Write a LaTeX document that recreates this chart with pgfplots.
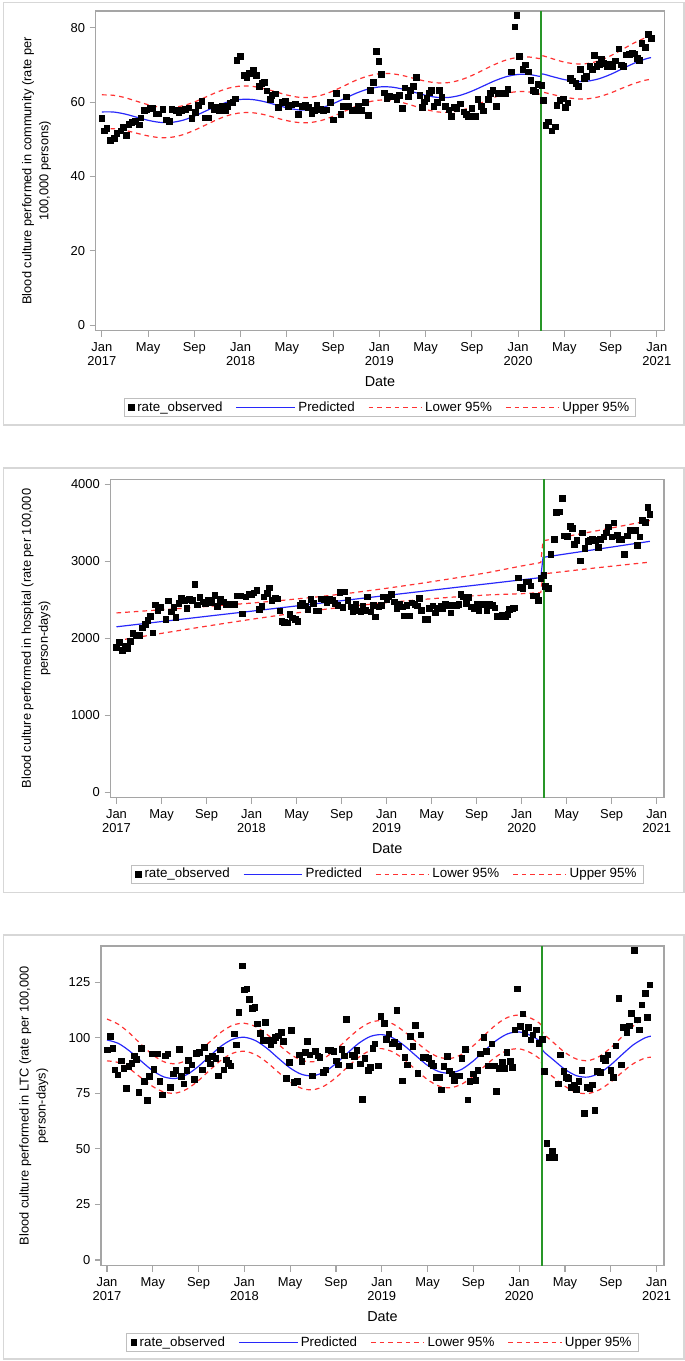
\documentclass[border=0pt]{standalone}
\usepackage{fontspec}
\setmainfont{Liberation Sans}
\usepackage{pgfplots}
\usepackage{pgfplotstable}
\pgfplotsset{compat=1.18}
\definecolor{predblue}{RGB}{40,40,250}
\definecolor{cired}{RGB}{255,50,50}
\definecolor{ivgreen}{RGB}{40,150,40}
\definecolor{framegray}{RGB}{165,165,165}
\definecolor{bordergray}{RGB}{215,215,215}
\pgfplotsset{
  panel/.style={
    scale only axis,
    xmin=-0.53, xmax=48.65,
    xtick={0,4,...,48},
    xticklabels={{Jan\\2017},May,Sep,{Jan\\2018},May,Sep,{Jan\\2019},May,Sep,{Jan\\2020},May,Sep,{Jan\\2021}},
    xtick pos=bottom, ytick pos=left,
    tick align=outside,
    major tick length=4.5pt,
    tick style={framegray, line width=0.8pt},
    axis line style={framegray, line width=0.9pt},
    ticklabel style={font=\fontsize{9.7}{10.5}\selectfont},
    xticklabel style={align=center, yshift=-1pt},
    /pgf/number format/assume math mode=true,
    /pgf/number format/1000 sep={},
    xlabel={Date},
    xlabel style={at={(axis description cs:0.5,-0.1595)}, anchor=center, font=\fontsize{10.8}{12}\selectfont},
    ylabel style={anchor=center, align=center, font=\fontsize{9.6}{12.75}\selectfont},
    legend style={at={(0.5,-0.24)}, anchor=center, legend columns=4, draw=black!25, line width=0.6pt,
      font=\fontsize{10}{12}\selectfont, inner xsep=3pt, inner ysep=0.5pt,
      /tikz/every even column/.append style={column sep=8pt}},
    legend cell align=left,
  },
  obs/.style={only marks, mark=square*, mark size=2.1pt, black},
  pred/.style={predblue, line width=0.9pt},
  band/.style={cired, line width=0.9pt, dash pattern=on 3.5pt off 3pt},
  ivline/.style={ivgreen, line width=1.1pt, forget plot},
  legobs/.style={legend image code/.code={\fill[black] (0pt,-2.1pt) rectangle (4.2pt,2.1pt);}},
  legpred/.style={legend image code/.code={\draw[draw=predblue, line width=0.9pt] (0pt,0pt) -- (44pt,0pt);}},
  legband/.style={legend image code/.code={\draw[draw=cired, line width=0.9pt, dash pattern=on 3.5pt off 3pt] (0pt,0pt) -- (40pt,0pt);}},
  fourlegend/.code={%
    \addlegendimage{legobs}\addlegendentry{rate\_observed}%
    \addlegendimage{legpred}\addlegendentry{Predicted}%
    \addlegendimage{legband}\addlegendentry{Lower 95\%}%
    \addlegendimage{legband}\addlegendentry{Upper 95\%}%
  },
}
\pgfplotstableread{
m p lo up
0 57.35 52.75 61.95
1 57.33 52.83 61.83
2 56.79 52.39 61.19
3 55.94 51.64 60.24
4 55.10 50.90 59.30
5 54.55 50.45 58.65
6 54.53 50.53 58.53
7 55.11 51.21 59.01
8 56.22 52.42 60.02
9 57.62 53.87 61.37
10 59.03 55.33 62.73
11 60.13 56.48 63.78
12 60.71 57.11 64.31
13 60.69 57.14 64.24
14 60.15 56.65 63.65
15 59.30 55.80 62.80
16 58.46 55.01 61.91
17 57.91 54.51 61.31
18 57.89 54.49 61.29
19 58.47 55.07 61.87
20 59.58 56.18 62.98
21 60.98 57.53 64.43
22 62.39 58.89 65.89
23 63.49 59.99 66.99
24 64.07 60.52 67.62
25 64.05 60.45 67.65
26 63.51 59.86 67.16
27 62.66 58.96 66.36
28 61.82 58.02 65.62
29 61.27 57.37 65.17
30 61.25 57.25 65.25
31 61.83 57.73 65.93
32 62.94 58.74 67.14
33 64.34 60.04 68.64
34 65.75 61.35 70.15
35 66.85 62.35 71.35
36 67.43 62.83 72.03
37 67.41 62.71 72.11
37.95 66.90 62.10 71.70
38.05 67.60 62.70 72.50
39 66.83 62.03 71.63
40 66.05 61.35 70.75
41 65.58 60.88 70.28
42 65.63 60.88 70.38
43 66.28 61.43 71.13
44 67.45 62.45 72.45
45 68.93 63.73 74.13
46 70.40 64.95 75.85
47 71.58 65.88 77.28
47.5 71.97 66.12 77.82
}\fitA
\pgfplotstableread{
m p lo up
0 2150 1970 2330
3 2201 2041 2361
6 2252 2112 2392
9 2303 2181 2425
12 2353 2248 2458
15 2404 2311 2497
18 2455 2369 2541
21 2506 2420 2592
24 2557 2464 2650
27 2608 2503 2713
30 2659 2537 2781
33 2709 2564 2854
36 2760 2580 2940
37.7 2789 2594 2984
37.9 3052 2837 3267
42.65 3156 2916 3396
47.4 3260 2990 3530
}\fitB
\pgfplotstableread{
m p lo up
0 98.95 89.55 108.35
1 97.38 88.78 105.98
2 93.86 85.86 101.86
3 89.36 81.86 96.86
4 85.11 78.01 92.21
5 82.28 75.48 89.08
6 81.65 75.05 88.25
7 83.42 76.92 89.92
8 87.14 80.74 93.54
9 91.84 85.49 98.19
10 96.29 89.99 102.59
11 99.32 93.02 105.62
12 100.15 93.85 106.45
13 98.58 92.28 104.88
14 95.06 88.76 101.36
15 90.56 84.26 96.86
16 86.31 80.01 92.61
17 83.48 77.18 89.78
18 82.85 76.55 89.15
19 84.62 78.32 90.92
20 88.34 82.04 94.64
21 93.04 86.74 99.34
22 97.49 91.19 103.79
23 100.52 94.22 106.82
24 101.35 95.05 107.65
25 99.78 93.48 106.08
26 96.26 89.96 102.56
27 91.76 85.41 98.11
28 87.51 81.11 93.91
29 84.68 78.18 91.18
30 84.05 77.45 90.65
31 85.82 79.12 92.52
32 89.54 82.69 96.39
33 94.24 87.24 101.24
34 98.69 91.49 105.89
35 101.72 94.32 109.12
36 102.55 94.95 110.15
37 100.98 93.18 108.78
37.9 97.88 89.88 105.88
38.05 94.25 86.25 102.25
39 89.96 82.16 97.76
40 85.71 78.11 93.31
41 82.88 75.38 90.38
42 82.25 74.85 89.65
43 84.02 76.52 91.52
44 87.74 80.04 95.44
45 92.44 84.44 100.44
46 96.89 88.39 105.39
47 99.92 90.82 109.02
47.5 100.64 91.14 110.14
}\fitC
\begin{document}
\begin{tikzpicture}
\path[use as bounding box] (0,0) rectangle (513.75pt,-1020.75pt);
\draw[bordergray, line width=0.9pt] (2.5pt,-1.9pt) rectangle (513pt,-318.75pt);
\draw[bordergray, line width=0.9pt] (2.5pt,-351pt) rectangle (513pt,-669.5pt);
\draw[bordergray, line width=0.9pt] (2.5pt,-701.25pt) rectangle (513pt,-1019.25pt);

% ---------------- Panel 1: community ----------------
\begin{axis}[panel, at={(71.8pt,-8.25pt)}, anchor=north west,
  width=426.45pt, height=239.8pt, ymin=-1.5, ymax=84.5,
  ytick={0,20,40,60,80},
  ylabel={Blood culture performed in community (rate per\\100,000 persons)},
  ylabel style={at={(axis description cs:-0.104,0.5)}}]
\pgfplotsset{fourlegend}
\addplot[obs, forget plot] table {
m v
0.00 55.6
0.20 52.3
0.43 53.0
0.72 49.8
1.07 50.2
1.30 51.6
1.64 52.3
1.87 53.3
2.10 51.1
2.31 54.0
2.59 54.5
2.88 54.9
3.26 53.9
3.37 55.8
3.66 57.8
3.89 57.9
4.18 58.5
4.41 58.4
4.70 56.9
4.93 56.9
5.28 58.1
5.56 55.2
5.85 54.8
6.05 58.0
6.40 57.8
6.66 57.1
6.92 57.8
7.21 58.1
7.52 58.5
7.78 55.7
8.10 57.2
8.33 59.2
8.65 60.2
8.94 55.8
9.23 55.8
9.43 59.1
9.72 58.0
9.95 58.6
10.18 57.8
10.38 59.0
10.67 57.7
10.87 58.8
11.10 59.8
11.33 59.9
11.53 60.9
11.68 71.2
11.96 72.3
12.31 67.2
12.54 66.6
12.77 67.8
13.12 68.6
13.35 67.2
13.61 64.3
13.84 65.0
14.04 65.4
14.27 63.0
14.56 60.8
14.70 61.9
14.99 62.2
15.28 58.6
15.57 60.0
15.86 60.2
16.14 58.9
16.43 59.3
16.72 59.5
17.01 56.7
17.30 58.8
17.59 59.3
17.87 58.6
18.16 57.0
18.36 57.8
18.60 59.1
18.88 58.0
19.17 57.8
19.40 57.9
19.75 60.0
20.04 55.2
20.27 62.3
20.67 56.7
20.90 58.9
21.13 61.4
21.33 58.8
21.62 57.8
21.91 57.8
22.20 58.8
22.49 57.8
22.78 60.0
23.06 56.4
23.21 63.1
23.50 65.4
23.73 73.6
23.96 71.0
24.16 67.5
24.42 62.5
24.65 61.0
24.88 61.6
25.3 61.4
25.5 60.8
25.7 61.9
26.0 58.3
26.2 63.8
26.5 61.4
26.7 63.2
26.95 64.3
27.2 66.6
27.5 61.9
27.7 58.6
27.9 60.1
28.1 61.0
28.3 62.5
28.5 63.2
28.7 58.9
29.0 60.0
29.2 63.1
29.4 61.3
29.7 58.9
30.0 57.9
30.2 56.2
30.5 58.6
30.7 58.3
31.0 59.6
31.3 57.4
31.5 56.8
31.7 56.2
32.0 58.3
32.3 56.2
32.5 60.7
32.8 58.9
33.0 57.7
33.4 60.7
33.6 62.3
33.8 63.1
34.1 58.9
34.3 62.3
34.6 62.3
34.9 62.3
35.1 63.5
35.4 68.2
35.7 80.3
35.9 83.3
36.1 72.3
36.4 68.8
36.6 70.0
36.9 68.2
37.1 65.9
37.3 63.2
37.5 62.8
37.7 64.8
38.05 64.6
38.2 60.5
38.4 53.8
38.6 54.7
38.9 52.3
39.2 53.4
39.35 59.2
39.6 60.5
39.9 60.9
40.1 58.6
40.3 59.8
40.5 66.4
40.7 65.7
41.0 65.0
41.2 64.3
41.4 68.8
41.7 66.4
41.9 66.9
42.2 69.7
42.4 68.8
42.6 72.6
42.8 69.7
43.0 70.2
43.2 71.5
43.4 70.4
43.7 69.7
43.9 70.2
44.2 69.5
44.4 71.1
44.7 74.3
44.9 70.0
45.1 69.7
45.35 72.7
45.6 72.9
45.9 73.3
46.1 73.0
46.3 71.8
46.5 71.2
46.7 75.8
47.0 74.7
47.25 78.3
47.5 77.1
};
\addplot[pred, smooth, forget plot] table[x=m, y=p] {\fitA};
\addplot[band, smooth, forget plot] table[x=m, y=lo] {\fitA};
\addplot[band, smooth, forget plot] table[x=m, y=up] {\fitA};
\addplot[ivline] coordinates {(38,-100) (38,500)};
\end{axis}

% ---------------- Panel 2: hospital ----------------
\begin{axis}[panel, at={(82.9pt,-359.5pt)}, anchor=north west,
  width=415.1pt, height=238.8pt, ymin=-70, ymax=4065,
  ytick={0,1000,2000,3000,4000},
  ylabel={Blood culture performed in hospital (rate per 100,000\\person-days)},
  ylabel style={at={(axis description cs:-0.1346,0.5)}}]
\pgfplotsset{fourlegend}
\addplot[obs, forget plot] table {
m v
0.0 1883
0.23 1948
0.5 1848
0.78 1900
0.97 1870
1.2 1965
1.43 2065
1.74 2043
2.05 2043
2.29 2139
2.56 2186
2.79 2238
3.02 2290
3.22 2074
3.45 2437
3.68 2368
3.92 2403
4.38 2247
4.61 2489
4.85 2346
5.08 2403
5.27 2273
5.54 2455
5.78 2528
6.05 2498
6.24 2390
6.48 2507
6.71 2498
6.94 2706
7.17 2437
7.41 2532
7.68 2476
7.87 2455
8.18 2498
8.45 2472
8.72 2558
8.96 2420
9.23 2507
9.5 2476
9.73 2446
10.0 2442
10.3 2446
10.5 2442
10.7 2554
11.0 2554
11.2 2320
11.5 2541
11.75 2576
12.0 2576
12.2 2593
12.45 2628
12.7 2377
12.9 2420
13.1 2541
13.4 2584
13.6 2658
13.8 2498
14.1 2520
14.3 2515
14.5 2359
14.7 2225
14.9 2208
15.2 2203
15.4 2316
15.6 2268
15.9 2247
16.1 2225
16.3 2433
16.5 2463
16.8 2424
17.0 2377
17.25 2507
17.5 2455
17.7 2359
17.95 2359
18.2 2515
18.45 2507
18.7 2468
18.9 2511
19.15 2498
19.4 2455
19.65 2433
19.85 2602
20.1 2403
20.3 2606
20.55 2498
20.8 2411
21.0 2346
21.25 2446
21.4 2359
21.7 2346
21.9 2424
22.1 2368
22.3 2541
22.6 2346
22.8 2433
23.0 2281
23.3 2411
23.5 2433
23.7 2541
24.0 2507
24.2 2541
24.4 2576
24.7 2476
24.9 2390
25.1 2446
25.4 2411
25.55 2294
25.8 2433
26.0 2294
26.25 2463
26.5 2446
26.7 2424
26.9 2520
27.1 2368
27.4 2247
27.6 2247
27.8 2390
28.1 2424
28.3 2333
28.5 2390
28.8 2424
29.0 2390
29.2 2442
29.5 2433
29.7 2333
29.9 2433
30.2 2424
30.4 2446
30.6 2576
30.8 2541
31.1 2455
31.3 2532
31.5 2411
31.75 2390
32.0 2442
32.2 2368
32.45 2446
32.7 2442
32.9 2359
33.15 2446
33.4 2433
33.6 2398
33.85 2290
34.1 2281
34.3 2303
34.55 2281
34.75 2316
34.9 2377
35.2 2390
35.4 2398
35.7 2788
35.9 2662
36.1 2649
36.4 2736
36.6 2736
36.8 2684
37.0 2554
37.3 2554
37.5 2498
37.7 2779
37.95 2822
38.1 2680
38.35 2649
38.6 3095
38.9 3286
39.1 3636
39.35 3645
39.6 3818
39.8 3333
40.05 3329
40.3 3459
40.5 3429
40.7 3225
40.9 3277
41.2 3009
41.4 3372
41.6 3169
41.9 3264
42.1 3277
42.3 3290
42.6 3277
42.8 3182
43.0 3290
43.3 3320
43.5 3372
43.7 3450
44.0 3320
44.2 3502
44.5 3342
44.7 3286
44.9 3286
45.1 3095
45.4 3333
45.6 3407
45.8 3398
46.1 3407
46.3 3212
46.5 3320
46.7 3537
47.0 3507
47.2 3701
47.4 3615
};
\addplot[pred, forget plot] table[x=m, y=p] {\fitB};
\addplot[band, forget plot] table[x=m, y=lo] {\fitB};
\addplot[band, forget plot] table[x=m, y=up] {\fitB};
\addplot[ivline] coordinates {(38,-1000) (38,5000)};
\end{axis}

% ---------------- Panel 3: LTC ----------------
\begin{axis}[panel, at={(75.7pt,-709.5pt)}, anchor=north west,
  width=422.3pt, height=239.8pt, ymin=-2.6, ymax=141.2,
  ytick={0,25,50,75,100,125},
  ylabel={Blood culture performed in LTC (rate per 100,000\\person-days)},
  ylabel style={at={(axis description cs:-0.119,0.5)}}]
\pgfplotsset{fourlegend}
\addplot[obs, forget plot] table {
m v
0.0 94.5
0.27 100.5
0.5 95.3
0.69 85.5
0.95 83.3
1.22 89.6
1.45 86.3
1.68 77.3
1.9 87.0
2.18 88.5
2.4 91.8
2.56 90.3
2.79 75.3
3.0 95.3
3.25 80.3
3.5 71.7
3.7 82.5
3.9 92.7
4.1 85.8
4.4 92.7
4.6 80.3
4.85 74.3
5.1 91.8
5.3 92.7
5.5 77.7
5.8 83.7
6.0 85.2
6.3 94.8
6.5 82.5
6.7 79.2
6.95 85.2
7.1 89.7
7.4 87.8
7.6 81.3
7.8 93.0
8.05 93.3
8.3 85.5
8.5 95.7
8.8 90.8
9.0 88.2
9.2 91.5
9.5 90.8
9.7 82.8
9.9 94.5
10.2 85.5
10.4 90.0
10.6 88.5
10.8 87.3
11.1 101.7
11.3 96.8
11.5 111.5
11.8 132.4
12.0 121.5
12.2 121.9
12.45 117.3
12.7 113.3
12.9 113.7
13.1 106.2
13.4 102.0
13.6 98.7
13.8 106.8
14.05 98.7
14.3 96.8
14.5 98.7
14.7 100.2
14.95 100.8
15.2 102.3
15.4 98.3
15.65 81.8
15.9 88.8
16.1 103.2
16.3 79.8
16.6 80.3
16.8 92.3
17.0 89.3
17.3 93.3
17.5 98.3
17.7 92.3
17.95 82.8
18.2 93.8
18.4 91.8
18.6 91.2
18.9 84.3
19.1 85.5
19.3 94.5
19.55 94.2
19.8 93.8
20.0 89.6
20.2 87.8
20.5 94.8
20.7 91.8
20.9 108.3
21.15 87.3
21.4 92.3
21.6 91.5
21.8 94.2
22.1 88.2
22.3 72.3
22.5 90.8
22.8 85.2
23.0 86.7
23.2 95.3
23.4 97.2
23.7 87.3
23.9 109.5
24.2 106.5
24.4 99.3
24.6 101.7
24.9 97.2
25.1 97.8
25.3 112.2
25.5 96.0
25.8 80.6
26.0 91.2
26.2 87.8
26.5 100.5
26.7 96.0
26.9 105.5
27.15 84.0
27.4 101.3
27.6 91.2
27.8 91.2
28.1 90.8
28.3 88.5
28.5 87.3
28.75 82.2
29.0 82.2
29.2 76.5
29.4 87.0
29.7 91.5
29.9 85.1
30.1 83.7
30.35 80.7
30.6 82.8
30.8 82.8
31.0 90.8
31.3 94.8
31.5 72.0
31.7 80.3
32.0 83.7
32.2 80.7
32.4 85.2
32.6 92.7
32.9 100.2
33.1 93.8
33.3 87.3
33.6 97.2
33.8 87.3
34.0 75.8
34.25 86.3
34.5 88.8
34.7 86.3
34.9 93.3
35.2 89.3
35.4 86.7
35.6 103.5
35.85 121.9
36.1 105.0
36.3 110.7
36.5 102.0
36.8 104.7
37.0 99.0
37.2 101.3
37.5 103.5
37.7 97.5
38.0 99.3
38.2 84.8
38.4 52.5
38.65 46.2
38.9 49.2
39.1 46.2
39.4 79.2
39.6 92.3
39.9 84.8
40.1 82.2
40.3 81.8
40.55 77.7
40.8 78.8
41.0 76.8
41.2 80.3
41.45 85.2
41.7 66.0
41.9 77.7
42.15 77.3
42.4 78.8
42.6 67.2
42.8 84.8
43.1 84.3
43.3 90.8
43.5 89.7
43.75 92.3
44.0 85.2
44.2 82.2
44.45 96.3
44.7 117.8
44.9 87.8
45.1 104.7
45.4 102.3
45.6 105.3
45.8 111.0
46.05 139.3
46.3 108.0
46.5 103.5
46.7 114.8
47.0 120.0
47.2 109.2
47.4 123.8
};
\addplot[pred, smooth, forget plot] table[x=m, y=p] {\fitC};
\addplot[band, smooth, forget plot] table[x=m, y=lo] {\fitC};
\addplot[band, smooth, forget plot] table[x=m, y=up] {\fitC};
\addplot[ivline] coordinates {(38,-100) (38,500)};
\end{axis}
\end{tikzpicture}
\end{document}
